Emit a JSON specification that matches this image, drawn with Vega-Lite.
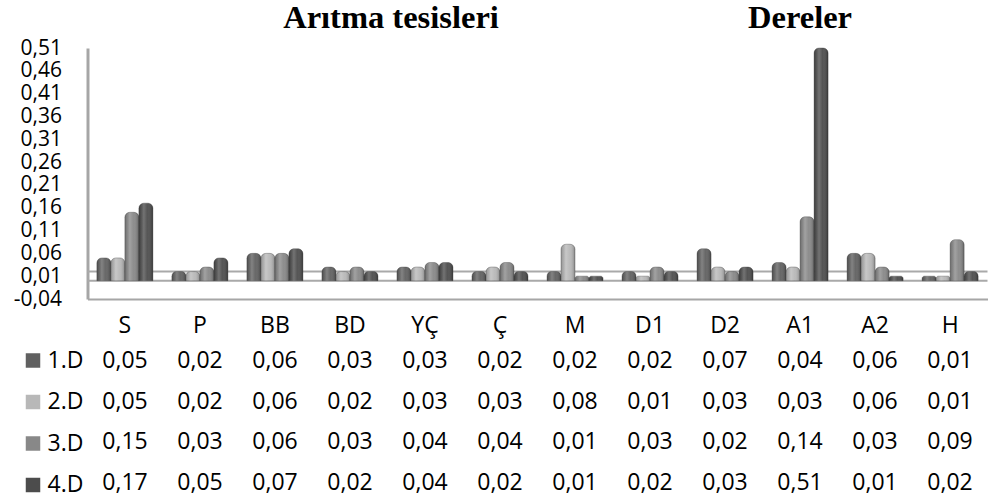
{
  "$schema": "https://vega.github.io/schema/vega-lite/v6.json",
  "background": "white",
  "padding": {"left": 12.5, "top": 0, "right": 5, "bottom": 0},
  "bounds": "flush",
  "spacing": 14,
  "config": {
    "locale": {"number": {"decimal": ",", "thousands": ".", "grouping": [3], "currency": ["", " €"], "minus": "-"}},
    "view": {"stroke": null},
    "font": "Open Sans",
    "axisY": {"labelOverlap": false, "labelBound": false},
    "legend": {
      "orient": "none", "legendX": -66, "legendY": 349, "title": null,
      "symbolType": "square", "symbolSize": 210, "symbolStrokeWidth": 0,
      "labelFontSize": 23, "labelFont": "Open Sans", "labelColor": "#000000",
      "rowPadding": 17.5, "labelOffset": 3, "padding": 0
    }
  },
  "datasets": {
    "vals": [
      {"cat": "S", "series": "1.D", "v": 0.05}, {"cat": "S", "series": "2.D", "v": 0.05}, {"cat": "S", "series": "3.D", "v": 0.15}, {"cat": "S", "series": "4.D", "v": 0.17},
      {"cat": "P", "series": "1.D", "v": 0.02}, {"cat": "P", "series": "2.D", "v": 0.02}, {"cat": "P", "series": "3.D", "v": 0.03}, {"cat": "P", "series": "4.D", "v": 0.05},
      {"cat": "BB", "series": "1.D", "v": 0.06}, {"cat": "BB", "series": "2.D", "v": 0.06}, {"cat": "BB", "series": "3.D", "v": 0.06}, {"cat": "BB", "series": "4.D", "v": 0.07},
      {"cat": "BD", "series": "1.D", "v": 0.03}, {"cat": "BD", "series": "2.D", "v": 0.02}, {"cat": "BD", "series": "3.D", "v": 0.03}, {"cat": "BD", "series": "4.D", "v": 0.02},
      {"cat": "YÇ", "series": "1.D", "v": 0.03}, {"cat": "YÇ", "series": "2.D", "v": 0.03}, {"cat": "YÇ", "series": "3.D", "v": 0.04}, {"cat": "YÇ", "series": "4.D", "v": 0.04},
      {"cat": "Ç", "series": "1.D", "v": 0.02}, {"cat": "Ç", "series": "2.D", "v": 0.03}, {"cat": "Ç", "series": "3.D", "v": 0.04}, {"cat": "Ç", "series": "4.D", "v": 0.02},
      {"cat": "M", "series": "1.D", "v": 0.02}, {"cat": "M", "series": "2.D", "v": 0.08}, {"cat": "M", "series": "3.D", "v": 0.01}, {"cat": "M", "series": "4.D", "v": 0.01},
      {"cat": "D1", "series": "1.D", "v": 0.02}, {"cat": "D1", "series": "2.D", "v": 0.01}, {"cat": "D1", "series": "3.D", "v": 0.03}, {"cat": "D1", "series": "4.D", "v": 0.02},
      {"cat": "D2", "series": "1.D", "v": 0.07}, {"cat": "D2", "series": "2.D", "v": 0.03}, {"cat": "D2", "series": "3.D", "v": 0.02}, {"cat": "D2", "series": "4.D", "v": 0.03},
      {"cat": "A1", "series": "1.D", "v": 0.04}, {"cat": "A1", "series": "2.D", "v": 0.03}, {"cat": "A1", "series": "3.D", "v": 0.14}, {"cat": "A1", "series": "4.D", "v": 0.51},
      {"cat": "A2", "series": "1.D", "v": 0.06}, {"cat": "A2", "series": "2.D", "v": 0.06}, {"cat": "A2", "series": "3.D", "v": 0.03}, {"cat": "A2", "series": "4.D", "v": 0.01},
      {"cat": "H", "series": "1.D", "v": 0.01}, {"cat": "H", "series": "2.D", "v": 0.01}, {"cat": "H", "series": "3.D", "v": 0.09}, {"cat": "H", "series": "4.D", "v": 0.02}
    ],
    "title1": [{"t": "Arıtma tesisleri", "c": "BD"}],
    "title2": [{"t": "Dereler", "c": "A1"}],
    "lines": [{"level": 0.02}, {"level": 0}]
  },
  "vconcat": [
    {
      "width": 900, "height": 34,
      "layer": [
        {
          "data": {"name": "title1"},
          "mark": {"type": "text", "font": "Liberation Serif", "fontWeight": "bold", "fontSize": 32.5, "color": "#000000", "dx": 41, "baseline": "alphabetic", "dy": 11},
          "encoding": {
            "x": {"field": "c", "type": "nominal",
                  "scale": {"domain": ["S","P","BB","BD","YÇ","Ç","M","D1","D2","A1","A2","H"], "paddingInner": 0.2533, "paddingOuter": 0.125}, "axis": null},
            "text": {"field": "t"}
          }
        },
        {
          "data": {"name": "title2"},
          "mark": {"type": "text", "font": "Liberation Serif", "fontWeight": "bold", "fontSize": 32.5, "color": "#000000", "baseline": "alphabetic", "dy": 11},
          "encoding": {
            "x": {"field": "c", "type": "nominal",
                  "scale": {"domain": ["S","P","BB","BD","YÇ","Ç","M","D1","D2","A1","A2","H"], "paddingInner": 0.2533, "paddingOuter": 0.125}, "axis": null},
            "text": {"field": "t"}
          }
        }
      ]
    },
    {
      "width": 900, "height": 251,
      "encoding": {
        "x": {"field": "cat", "type": "nominal",
              "scale": {"domain": ["S","P","BB","BD","YÇ","Ç","M","D1","D2","A1","A2","H"], "paddingInner": 0.2533, "paddingOuter": 0.125},
              "axis": {"title": null, "labelAngle": 0, "ticks": false, "domainColor": "#a6a6a6", "domainWidth": 2,
                       "labelFontSize": 23, "labelFont": "Open Sans", "labelColor": "#000000", "labelPadding": 15}},
        "y": {"field": "v", "type": "quantitative", "stack": null,
              "scale": {"domain": [-0.04, 0.51], "nice": false, "zero": false},
              "axis": {"title": null, "values": [-0.04, 0.01, 0.06, 0.11, 0.16, 0.21, 0.26, 0.31, 0.36, 0.41, 0.46, 0.51],
                       "format": ".2f", "grid": false, "ticks": false, "labelOverlap": false,
                       "domainColor": "#a6a6a6", "domainWidth": 3, "labelPadding": 26,
                       "labelFontSize": 21, "labelFont": "Open Sans", "labelColor": "#000000"}}
      },
      "layer": [
        {
          "data": {"name": "lines"},
          "mark": {"type": "rule", "color": "#a9a9a9", "strokeWidth": 2},
          "encoding": {
            "x": null,
            "y": {"field": "level", "type": "quantitative", "scale": {"domain": [-0.04, 0.51], "nice": false, "zero": false},
                  "axis": {"title": null, "values": [-0.04, 0.01, 0.06, 0.11, 0.16, 0.21, 0.26, 0.31, 0.36, 0.41, 0.46, 0.51],
                           "format": ".2f", "grid": false, "ticks": false, "labelOverlap": false,
                           "domainColor": "#a6a6a6", "domainWidth": 3, "labelPadding": 26,
                           "labelFontSize": 21, "labelFont": "Open Sans", "labelColor": "#000000"}}
          }
        },
        {
          "data": {"name": "vals"},
          "mark": {"type": "bar", "cornerRadiusTopLeft": 5, "cornerRadiusTopRight": 5, "stroke": "#3a3a3a", "strokeWidth": 0.6, "strokeOpacity": 0.6},
          "encoding": {
            "xOffset": {"field": "series", "type": "nominal", "scale": {"paddingInner": 0, "paddingOuter": 0}},
            "color": {"field": "series", "type": "nominal",
                      "scale": {"domain": ["1.D","2.D","3.D","4.D"], "range": ["#606060","#b8b8b8","#888888","#4c4c4c"]}}
          }
        },
        {
          "data": {"name": "vals"},
          "mark": {"type": "bar", "cornerRadiusTopLeft": 5, "cornerRadiusTopRight": 5, "strokeWidth": 0,
                   "color": {"gradient": "linear", "x1": 0, "x2": 1, "y1": 0, "y2": 0,
                             "stops": [{"offset": 0, "color": "rgba(0,0,0,0.18)"}, {"offset": 0.35, "color": "rgba(255,255,255,0.22)"}, {"offset": 0.6, "color": "rgba(255,255,255,0.05)"}, {"offset": 1, "color": "rgba(0,0,0,0.28)"}]}},
          "encoding": {
            "xOffset": {"field": "series", "type": "nominal", "scale": {"paddingInner": 0, "paddingOuter": 0}}
          }
        }
      ]
    },
    {
      "width": 900, "height": 190,
      "data": {"name": "vals"},
      "mark": {"type": "text", "fontSize": 23, "font": "Open Sans", "color": "#000000"},
      "encoding": {
        "x": {"field": "cat", "type": "nominal",
              "scale": {"domain": ["S","P","BB","BD","YÇ","Ç","M","D1","D2","A1","A2","H"], "paddingInner": 0.2533, "paddingOuter": 0.125}, "axis": null},
        "y": {"field": "series", "type": "nominal",
              "scale": {"type": "band", "domain": ["1.D","2.D","3.D","4.D"], "paddingInner": 0, "paddingOuter": 0.346, "align": 1}, "axis": null},
        "text": {"field": "v", "type": "quantitative", "format": ".2f"}
      }
    }
  ]
}
